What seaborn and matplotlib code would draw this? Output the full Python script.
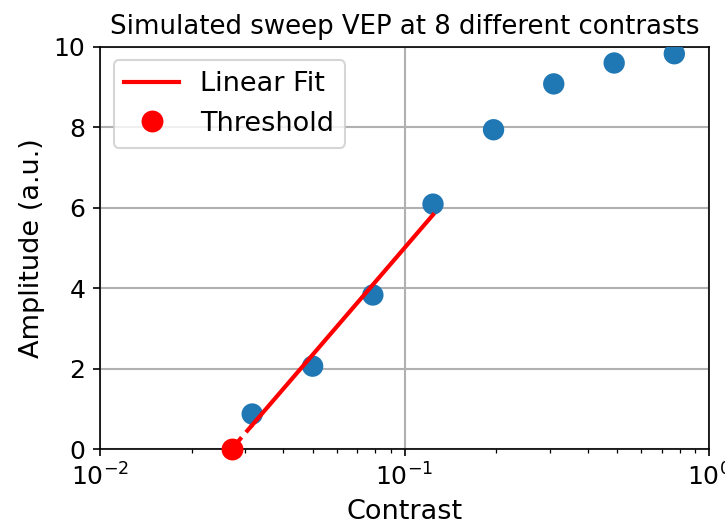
import numpy as np
import pandas as pd
import matplotlib
matplotlib.use("Agg")
import matplotlib.pyplot as plt
import seaborn as sns

contrasts = [0.0316, 0.0499, 0.0787, 0.124, 0.196, 0.309, 0.488, 0.769]
amplitudes = [0.87, 2.06, 3.83, 6.09, 7.94, 9.08, 9.60, 9.83]
n_fit = 4

df = pd.DataFrame({"Contrast": contrasts, "Amplitude": amplitudes})

logc = np.log10(df["Contrast"].values[:n_fit])
slope, intercept = np.polyfit(logc, df["Amplitude"].values[:n_fit], 1)
threshold = 10 ** (-intercept / slope)

fig, ax = plt.subplots(figsize=(725 / 150, 527 / 150), dpi=150)
fig.subplots_adjust(left=0.138, right=0.978, top=0.911, bottom=0.148)

sns.scatterplot(data=df, x="Contrast", y="Amplitude", ax=ax, color="#1f77b4",
                s=105, edgecolor="none", zorder=3, legend=False)

fit_x = np.array([contrasts[0], contrasts[n_fit - 1]])
fit_y = slope * np.log10(fit_x) + intercept
ax.plot(fit_x, fit_y, color="red", lw=2, label="Linear Fit", zorder=4)
dash_x = np.array([threshold, contrasts[0]])
ax.plot(dash_x, slope * np.log10(dash_x) + intercept, color="red", lw=2,
        ls="--", zorder=4)
ax.plot([threshold], [0], "o", color="red", ms=9.5, label="Threshold",
        zorder=5, clip_on=False)

ax.set_xscale("log")
ax.set_xlim(1e-2, 1e0)
ax.set_ylim(0, 10)
ax.grid(True, which="major", color="#b0b0b0", lw=1)
ax.set_axisbelow(True)
ax.tick_params(axis="both", which="major", labelsize=12)
ax.set_xlabel("Contrast", fontsize=13)
ax.set_ylabel("Amplitude (a.u.)", fontsize=13)
ax.set_title("Simulated sweep VEP at 8 different contrasts", fontsize=12.5)
ax.legend(loc="upper left", fontsize=13)
for s in ax.spines.values():
    s.set_color("black")

fig.savefig("out.png", dpi=150)
